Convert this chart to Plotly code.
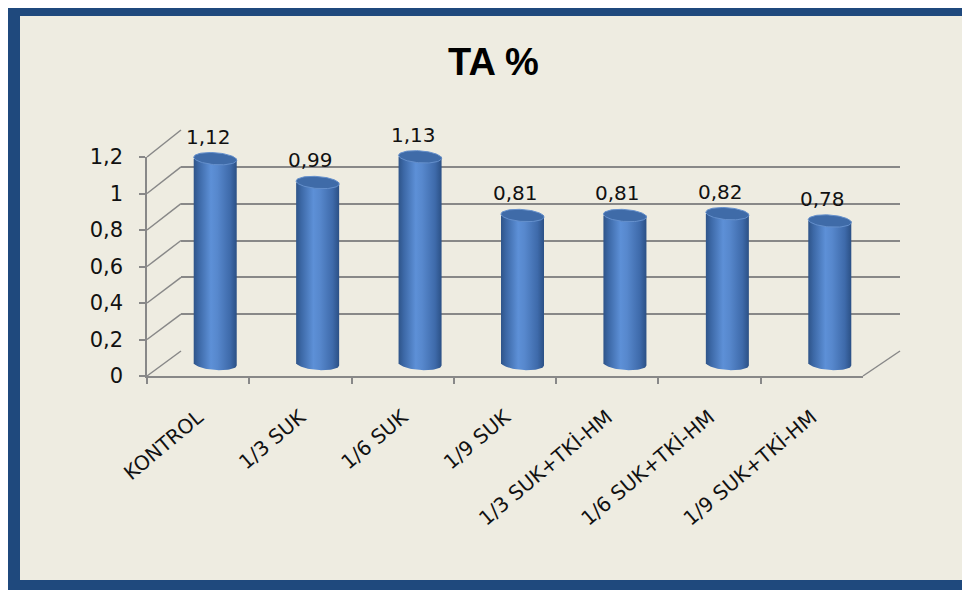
import math
import plotly.graph_objects as go

# ---------------- data ----------------
categories = ["KONTROL", "1/3 SUK", "1/6 SUK", "1/9 SUK",
              "1/3 SUK+TKİ-HM", "1/6 SUK+TKİ-HM", "1/9 SUK+TKİ-HM"]
values = [1.12, 0.99, 1.13, 0.81, 0.81, 0.82, 0.78]
y_ticks = [0, 0.2, 0.4, 0.6, 0.8, 1.0, 1.2]
title_text = "TA %"

# ---------------- geometry helpers (screen pixels -> paper) ----------------
OFF = 8                      # page body margin
W, H = 970 - OFF, 590 - OFF  # figure size so the page fits the window
def px(x): return (x - OFF) / W
def py(y): return 1 - (y - OFF) / H

YMAX = 1.2
# front (axis), back (grid wall), middle (cylinders) planes, in screen pixels
FX0, FX1, FY0, FY1 = 147, 863, 376, 157
BX0, BX1, BY0, BY1 = 181, 900, 351, 130
MX0, MX1, MY0, MY1 = 164, 881, 364, 144
k_mid = (MY0 - MY1) / YMAX
M_RANGE = [-0.15, 1.3]

def yf(v): return FY0 - v * (FY0 - FY1) / YMAX
def yb(v): return BY0 - v * (BY0 - BY1) / YMAX

BORDER = "#1F497D"
BG = "#EEECE1"
GRID = "#888888"
FONT = "DejaVu Sans"

fig = go.Figure()

# invisible trace to carry the category axis
fig.add_trace(go.Scatter(x=categories, y=values, mode="markers",
                         marker=dict(opacity=0), hoverinfo="skip",
                         showlegend=False, xaxis="x", yaxis="y"))
# invisible trace for the back wall (grid)
fig.add_trace(go.Scatter(x=categories, y=values, mode="markers",
                         marker=dict(opacity=0), hoverinfo="skip",
                         showlegend=False, xaxis="x2", yaxis="y2"))

# cylinders
r = 0.21
h = 6.0 / k_mid
n_arc = 40
body_scale = [[0.0, "#2E5489"], [0.12, "#3C68A6"], [0.40, "#5D90D7"],
              [0.55, "#5788CD"], [0.85, "#3E6AAA"], [1.0, "#2B5085"]]
for i, v in enumerate(values):
    xs, ys = [i - r], [v]
    xs.append(i - r); ys.append(0)
    for j in range(n_arc + 1):
        t = math.pi + math.pi * j / n_arc
        xs.append(i + r * math.cos(t)); ys.append(h * math.sin(t) - 0.25 * h * math.cos(t))
    xs.append(i + r); ys.append(v)
    xs.append(i - r); ys.append(v)
    fig.add_trace(go.Scatter(x=xs, y=ys, mode="lines", fill="toself",
                             line=dict(width=0, color="#3A65A3"),
                             fillgradient=dict(type="horizontal", colorscale=body_scale),
                             hoverinfo="skip", showlegend=False,
                             xaxis="x3", yaxis="y3"))
    cx, cy = [], []
    for j in range(n_arc * 2 + 1):
        t = 2 * math.pi * j / (n_arc * 2)
        cx.append(i + r * math.cos(t))
        cy.append(v + h * math.sin(t) - 0.25 * h * math.cos(t))
    fig.add_trace(go.Scatter(x=cx, y=cy, mode="lines", fill="toself",
                             fillcolor="#3F6BA8",
                             line=dict(width=1, color="#6590CC"),
                             hoverinfo="skip", showlegend=False,
                             xaxis="x3", yaxis="y3"))

annotations = []
for i, v in enumerate(values):
    annotations.append(dict(x=i, y=v, xref="x3", yref="y3",
                            text=f"{v:.2f}".replace(".", ","),
                            showarrow=False, yshift=22, xshift=-7,
                            font=dict(family=FONT, size=20, color="#111111")))
annotations.append(dict(x=px(493), y=py(62), xref="paper", yref="paper",
                        xanchor="center", yanchor="middle",
                        text=f"<b>{title_text}</b>", showarrow=False,
                        font=dict(family="Liberation Sans", size=38, color="#000000")))

shapes = [
    # outer border and inner panel
    dict(type="rect", xref="paper", yref="paper", x0=px(8), x1=px(980),
         y0=py(600), y1=py(4), fillcolor=BORDER, line=dict(width=0), layer="below"),
    dict(type="rect", xref="paper", yref="paper", x0=px(20), x1=px(969),
         y0=py(580), y1=py(16), fillcolor=BG, line=dict(width=0), layer="below"),
]
# diagonal connectors from front axis to back wall
for v in y_ticks:
    shapes.append(dict(type="line", xref="paper", yref="paper",
                       x0=px(FX0), y0=py(yf(v)), x1=px(BX0), y1=py(yb(v)),
                       line=dict(color=GRID, width=1.5), layer="below"))
# floor right edge
shapes.append(dict(type="line", xref="paper", yref="paper",
                   x0=px(FX1), y0=py(yf(0)), x1=px(BX1), y1=py(yb(0)),
                   line=dict(color=GRID, width=1.5), layer="below"))

fig.update_layout(
    width=W, height=H,
    margin=dict(l=0, r=0, t=0, b=0, pad=0, autoexpand=False),
    paper_bgcolor="white",
    plot_bgcolor="rgba(0,0,0,0)",
    separators=",.",
    showlegend=False,
    annotations=annotations,
    shapes=shapes,
    xaxis=dict(domain=[px(FX0), px(FX1)], anchor="y", type="category",
               range=[-0.5, len(categories) - 0.5], automargin=False,
               showline=True, linecolor=GRID, linewidth=1.5,
               ticks="outside", tickson="boundaries", ticklen=6,
               tickcolor=GRID, tickwidth=1.5, showgrid=False, zeroline=False,
               tickangle=-40, ticklabelstandoff=20,
               tickfont=dict(family=FONT, size=20, color="#111111")),
    yaxis=dict(domain=[py(FY0), py(FY1)], anchor="x", range=[0, YMAX],
               tickvals=y_ticks, showline=True, linecolor=GRID, linewidth=1.5,
               ticks="outside", ticklen=6, tickcolor=GRID, tickwidth=1.5,
               showgrid=False, zeroline=False, ticklabelstandoff=12, automargin=False,
               tickfont=dict(family=FONT, size=21, color="#111111")),
    xaxis2=dict(domain=[px(BX0), px(BX1)], anchor="y2", type="category",
                range=[-0.5, len(categories) - 0.5], automargin=False,
                showticklabels=False, ticks="", showgrid=False,
                zeroline=False, showline=False),
    yaxis2=dict(domain=[py(BY0), py(BY1)], anchor="x2", automargin=False,
                range=[-0.001, YMAX + 0.001], tickvals=y_ticks,
                showgrid=True, gridcolor=GRID, gridwidth=1.5,
                showticklabels=False, ticks="", zeroline=False, showline=False),
    xaxis3=dict(domain=[px(MX0), px(MX1)], anchor="y3",
                range=[-0.5, len(categories) - 0.5], visible=False),
    yaxis3=dict(domain=[py(MY0 + (0 - M_RANGE[0]) * k_mid),
                        py(MY1 - (M_RANGE[1] - YMAX) * k_mid)],
                anchor="x3", range=M_RANGE, visible=False),
)

fig.write_html("out.html")
